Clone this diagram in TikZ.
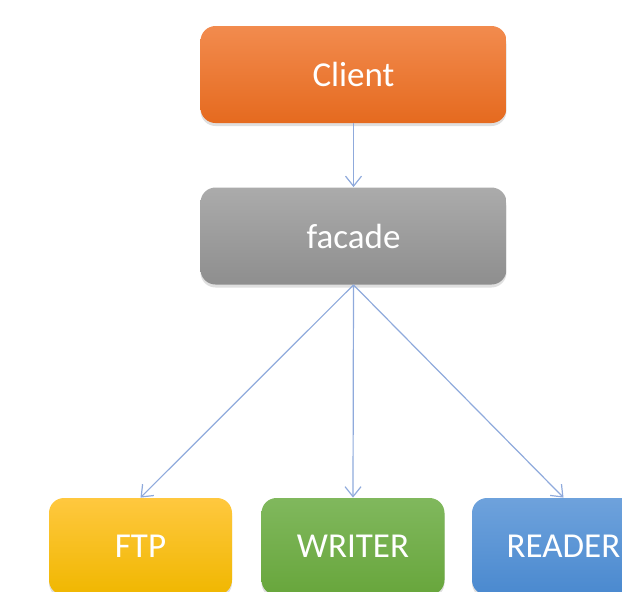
\documentclass[tikz,border=0pt]{standalone}
\usepackage{fontspec}
\setmainfont{Carlito}
\usetikzlibrary{arrows.meta,shadows}
\definecolor{ClientTop}{HTML}{F28B4E}
\definecolor{ClientBot}{HTML}{E56A1F}
\definecolor{FacadeTop}{HTML}{ABABAB}
\definecolor{FacadeBot}{HTML}{8E8E8E}
\definecolor{FtpTop}{HTML}{FFC83F}
\definecolor{FtpBot}{HTML}{F0B700}
\definecolor{WriterTop}{HTML}{80B85D}
\definecolor{WriterBot}{HTML}{68A63C}
\definecolor{ReaderTop}{HTML}{6EA2DC}
\definecolor{ReaderBot}{HTML}{4A89CF}
\definecolor{LinkBlue}{HTML}{8FAADC}

\begin{document}
\begin{tikzpicture}[x=0.5pt,y=-0.5pt,
	box/.style={rounded corners=7.5pt, inner sep=0pt, text=white,
		font=\fontsize{17.5}{20}\selectfont,
		drop shadow={shadow xshift=0pt, shadow yshift=-1.5pt, opacity=0.25}},
	wide/.style={box, minimum width=153pt, minimum height=48.5pt},
	small/.style={box, minimum width=91.5pt, minimum height=48.5pt},
	link/.style={draw=LinkBlue, line width=0.6pt, -{Straight Barb[length=5pt,width=8pt]}}]
	
	\clip (0,0) rectangle (622,591);
	\useasboundingbox (0,0) rectangle (622,591);
	
	% top row
	\node[wide, top color=ClientTop, bottom color=ClientBot] (client) at (353.5,74.5) {Client};
	\node[wide, top color=FacadeTop, bottom color=FacadeBot] (facade) at (353.5,236) {facade};
	
	% subsystems
	\node[small, top color=FtpTop, bottom color=FtpBot] (ftp) at (140.5,546.5) {FTP};
	\node[small, top color=WriterTop, bottom color=WriterBot] (writer) at (353,546.5) {WRITER};
	\node[small, top color=ReaderTop, bottom color=ReaderBot] (reader) at (563.5,546.5) {READER};
	
	\draw[link] (client.south) -- (facade.north);
	\foreach \sub in {ftp,writer,reader}{
		\draw[link] (facade.south) -- (\sub.north);
	}
	
\end{tikzpicture}
\end{document}
